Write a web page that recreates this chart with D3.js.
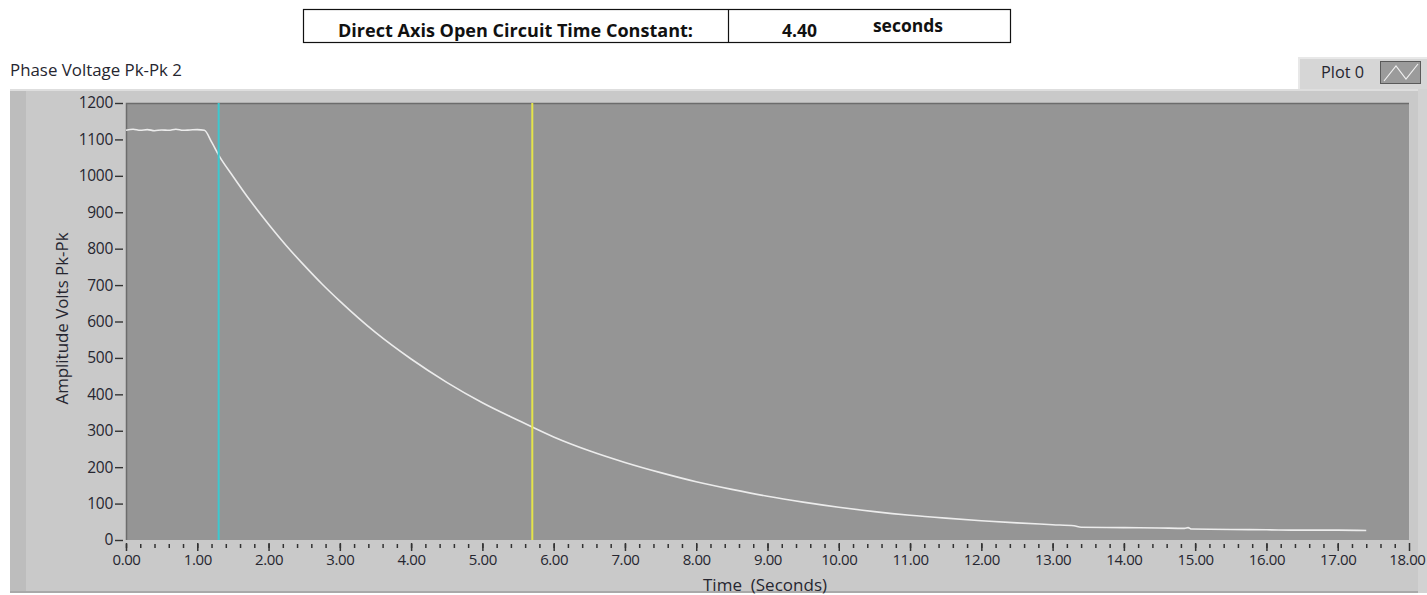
<!DOCTYPE html>
<html>
<head>
<meta charset="utf-8">
<script src="https://cdn.jsdelivr.net/npm/d3@7"></script>
<style>
  html, body { margin: 0; padding: 0; background: #ffffff; }
  svg { display: block; }
  text { font-family: "Open Sans", "Noto Sans", sans-serif; }
</style>
</head>
<body>
<svg id="chart" width="1427" height="595"></svg>
<script>
// Time (s) and phase voltage samples (V pk-pk)
const timeSeconds = [0.00, 0.10, 0.20, 0.30, 0.40, 0.50, 0.60, 0.70, 0.80, 0.90, 1.00, 1.10, 1.20, 1.30, 1.50, 1.75, 2.00, 2.25, 2.50, 2.75, 3.00, 3.50, 4.00, 4.50, 5.00, 5.50, 6.00, 6.50, 7.00, 7.50, 8.00, 8.50, 9.00, 9.50, 10.00, 10.50, 11.00, 11.50, 12.00, 12.50, 13.00, 13.30, 13.40, 14.00, 14.50, 14.85, 14.90, 14.95, 15.50, 16.00, 16.50, 17.00, 17.40];
const voltagePkPk = [1125, 1128, 1125, 1127, 1124, 1126, 1125, 1128, 1125, 1126, 1127, 1125, 1093, 1057, 999, 930, 867, 808, 754, 703, 656, 570, 497, 433, 377, 329, 283, 245, 213, 185, 160, 139, 120, 104, 90, 78, 68, 60, 53, 47, 42, 39, 35, 34, 33, 32, 34, 30, 29, 28, 27, 27, 26];

// Cursor positions (s)
const cursorNames = ["Cursor 0", "Cursor 1"];
const cursorTimes = [1.30, 5.70];
const cursorColors = ["#3cc8cf", "#e4e44a"];

// Axis ticks
const yTicks = [0, 100, 200, 300, 400, 500, 600, 700, 800, 900, 1000, 1100, 1200];
const xMajorTicks = d3.range(0, 19, 1);
const xMinorTicks = d3.range(0, 90).map(i => i * 0.2);

const headerLabel = "Direct Axis Open Circuit Time Constant:";
const headerValue = "4.40";
const headerUnit = "seconds";

const svg = d3.select("#chart");
const ink = "#262630";

// ---- Header table ----
const hdr = svg.append("g");
hdr.append("rect").attr("x", 303.5).attr("y", 9.5).attr("width", 707).attr("height", 33)
  .attr("fill", "#fff").attr("stroke", "#111").attr("stroke-width", 1.2);
hdr.append("line").attr("x1", 728.5).attr("x2", 728.5).attr("y1", 9.5).attr("y2", 42.5)
  .attr("stroke", "#111").attr("stroke-width", 1.2);
hdr.append("text").attr("x", 338).attr("y", 37)
  .attr("font-size", 17.5).attr("font-weight", "bold").attr("fill", "#111")
  .attr("textLength", 355).attr("lengthAdjust", "spacingAndGlyphs").text(headerLabel);
hdr.append("text").attr("x", 799.5).attr("y", 37).attr("text-anchor", "middle")
  .attr("font-size", 17.5).attr("font-weight", "bold").attr("fill", "#111").text(headerValue);
hdr.append("text").attr("x", 908).attr("y", 32).attr("text-anchor", "middle")
  .attr("font-size", 17.5).attr("font-weight", "bold").attr("fill", "#111").text(headerUnit);

// ---- Graph label ----
svg.append("text").attr("x", 10).attr("y", 76).attr("font-size", 15.5).attr("fill", ink)
  .attr("textLength", 172).attr("lengthAdjust", "spacingAndGlyphs")
  .text("Phase Voltage Pk-Pk 2");

// ---- Plot legend ----
const leg = svg.append("g");
leg.append("rect").attr("x", 1298).attr("y", 57).attr("width", 129).attr("height", 32)
  .attr("fill", "#d6d6d6");
leg.append("rect").attr("x", 1298).attr("y", 57).attr("width", 129).attr("height", 2).attr("fill", "#e8e8e8");
leg.append("rect").attr("x", 1298).attr("y", 57).attr("width", 2).attr("height", 32).attr("fill", "#e8e8e8");
leg.append("text").attr("x", 1321).attr("y", 78).attr("font-size", 15.5).attr("fill", ink)
  .attr("textLength", 43).attr("lengthAdjust", "spacingAndGlyphs").text("Plot 0");
leg.append("rect").attr("x", 1380.5).attr("y", 61.5).attr("width", 40).attr("height", 22)
  .attr("fill", "#9b9b9b").attr("stroke", "#5a5a5a").attr("stroke-width", 1);
leg.append("path").attr("d", "M1384,81 L1396,66 L1406,79 L1418,64")
  .attr("fill", "none").attr("stroke", "#f0f0f0").attr("stroke-width", 1.2);

// ---- Graph frame ----
svg.append("rect").attr("x", 10).attr("y", 89).attr("width", 1417).attr("height", 504).attr("fill", "#c9c9c9");
svg.append("rect").attr("x", 10).attr("y", 89).attr("width", 16).attr("height", 504).attr("fill", "#bdbdbd");
svg.append("rect").attr("x", 10).attr("y", 89).attr("width", 1417).attr("height", 2).attr("fill", "#dedede");
svg.append("rect").attr("x", 10).attr("y", 591).attr("width", 1417).attr("height", 2).attr("fill", "#a9a9a9");
svg.append("rect").attr("x", 1418).attr("y", 89).attr("width", 9).attr("height", 504).attr("fill", "#d2d2d2");

// ---- Scales ----
const plot = { left: 126, right: 1409, top: 103, bottom: 540 };
const x = d3.scaleLinear().domain([0, 18]).range([plot.left, plot.right]);
const y = d3.scaleLinear().domain([0, 1200]).range([plot.bottom, plot.top]);

// Plot background
svg.append("rect").attr("x", plot.left).attr("y", plot.top)
  .attr("width", plot.right - plot.left).attr("height", plot.bottom - plot.top).attr("fill", "#959595");
svg.append("path")
  .attr("d", `M${plot.left + 0.5},${plot.bottom} V${plot.top + 0.5} H${plot.right}`)
  .attr("fill", "none").attr("stroke", "#6c6c6c").attr("stroke-width", 1.5);

// ---- Y axis ----
const yAxis = d3.axisLeft(y).tickValues(yTicks).tickSize(8).tickPadding(2).tickFormat(d3.format("d"));
const yg = svg.append("g").attr("transform", `translate(${plot.left - 3},0)`).call(yAxis);
yg.select(".domain").remove();
yg.selectAll(".tick line").attr("stroke", "#333").attr("stroke-width", 1.4);
yg.selectAll(".tick text").attr("font-size", 15.5).attr("fill", ink)
  .attr("font-family", "'Open Sans', sans-serif").attr("letter-spacing", -0.3);

// ---- X axis: minor then major ----
const xMinor = d3.axisBottom(x).tickValues(xMinorTicks).tickSize(5).tickFormat("");
const xgm = svg.append("g").attr("transform", `translate(0,${plot.bottom + 3})`).call(xMinor);
xgm.select(".domain").remove();
xgm.selectAll(".tick line").attr("stroke", "#333").attr("stroke-width", 1.5).attr("y1", 1);

const xAxis = d3.axisBottom(x).tickValues(xMajorTicks).tickSize(8).tickPadding(3).tickFormat(d3.format(".2f"));
const xg = svg.append("g").attr("transform", `translate(0,${plot.bottom + 3})`).call(xAxis);
xg.select(".domain").remove();
xg.selectAll(".tick line").attr("stroke", "#333").attr("stroke-width", 1.5);
xg.selectAll(".tick text").attr("font-size", 15).attr("fill", ink)
  .attr("font-family", "'Open Sans', sans-serif").attr("letter-spacing", -0.4);
// keep the last label inside the frame
xg.selectAll(".tick text").filter(d => d === 18).attr("text-anchor", "end").attr("dx", 16);

// ---- Axis titles ----
svg.append("text").attr("x", 765).attr("y", 591).attr("text-anchor", "middle")
  .attr("font-size", 16).attr("fill", ink).attr("xml:space", "preserve")
  .attr("textLength", 124).attr("lengthAdjust", "spacingAndGlyphs").text("Time  (Seconds)");
svg.append("text").attr("transform", `translate(68,${(plot.top + plot.bottom) / 2 - 3}) rotate(-90)`)
  .attr("text-anchor", "middle").attr("font-size", 16).attr("fill", ink)
  .attr("textLength", 172).attr("lengthAdjust", "spacingAndGlyphs").text("Amplitude Volts Pk-Pk");

// ---- Signal trace ----
const data = timeSeconds.map((t, i) => ({ t, v: voltagePkPk[i] }));
const line = d3.line().x(d => x(d.t)).y(d => y(d.v)).curve(d3.curveMonotoneX);
svg.append("path").datum(data).attr("d", line)
  .attr("fill", "none").attr("stroke", "#ececec").attr("stroke-width", 1.6);

// ---- Cursors ----
svg.selectAll(".cursor").data(cursorTimes).join("line")
  .attr("class", "cursor")
  .attr("x1", d => x(d)).attr("x2", d => x(d))
  .attr("y1", plot.top).attr("y2", plot.bottom)
  .attr("stroke", (d, i) => cursorColors[i]).attr("stroke-width", 2);
</script>
</body>
</html>
